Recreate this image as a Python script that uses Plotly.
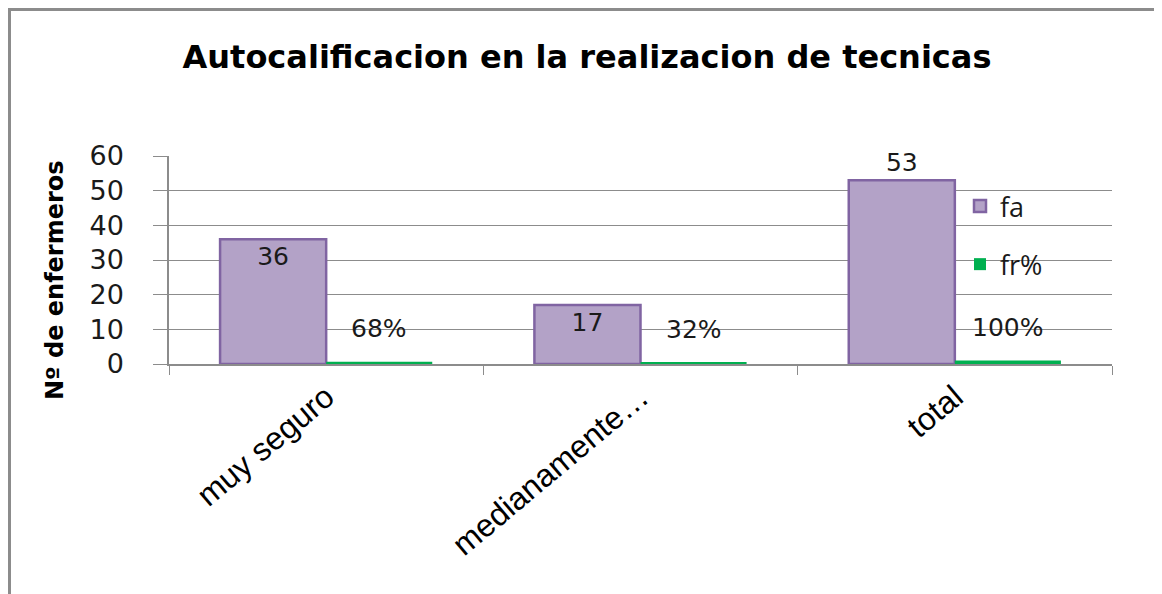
import plotly.graph_objects as go

categories = ["muy seguro", "medianamente…", "total"]
fa_values = [36, 17, 53]
fr_values = [0.68, 0.32, 1.00]
fa_labels = ["36", "17", "53"]
fr_labels = ["68%", "32%", "100%"]
fa_textpos = ["inside", "inside", "outside"]
y_ticks = [0, 10, 20, 30, 40, 50, 60]

# page has an 8px body margin; design in reference pixels, then shift
OFF = 8
W, H = 1162 - OFF, 594 - OFF
L, T = 169 - OFF, 156 - OFF
R = W - (1112 - OFF)
B = H - (364 - OFF)
pw = W - L - R
ph = H - T - B

fig = go.Figure()
fig.add_trace(go.Bar(
    x=categories, y=fa_values, name="fa", legendgroup="a",
    marker=dict(color="#B3A2C7", line=dict(color="#8064A2", width=2.5)),
    text=fa_labels, textposition=fa_textpos, insidetextanchor="end",
    textfont=dict(family="DejaVu Sans", size=25, color="#1a1a1a"),
    outsidetextfont=dict(family="DejaVu Sans", size=25, color="#1a1a1a"),
    insidetextfont=dict(family="DejaVu Sans", size=25, color="#1a1a1a"),
    cliponaxis=False, constraintext="none",
))
fig.add_trace(go.Bar(
    x=categories, y=fr_values, name="fr%", legendgroup="b",
    marker=dict(color="#00B050", line=dict(color="#00B050", width=0)),
    cliponaxis=False,
))

# fr% data labels, positioned over the fr bars
bar_px = pw / len(categories) * (1 - 0.325) / 2
for c, v, t in zip(categories, fr_values, fr_labels):
    fig.add_annotation(
        x=c, y=v, xref="x", yref="y", text=t, showarrow=False,
        xshift=bar_px / 2, yshift=17, yanchor="bottom",
        font=dict(family="DejaVu Sans", size=25, color="#1a1a1a"),
    )

# y-axis title
fig.add_annotation(
    text="<b>Nº de enfermeros</b>", textangle=-90, showarrow=False,
    xref="paper", yref="paper", x=(55 - OFF - L) / pw, y=(364 - 280) / ph,
    xanchor="center", yanchor="middle",
    font=dict(family="DejaVu Sans", size=24, color="#000000"),
)

# outer frame (top and left edges visible)
fig.add_shape(type="rect", xref="paper", yref="paper",
              x0=(1.5 - L) / pw, x1=(W + 20 - L) / pw,
              y0=-(H + 20 - T - ph) / ph, y1=(H - B - 1.5) / ph,
              line=dict(color="#8c8c8c", width=3), fillcolor="rgba(0,0,0,0)", layer="below")

fig.update_layout(
    width=W, height=H,
    margin=dict(l=L, r=R, t=T, b=B, autoexpand=False),
    paper_bgcolor="white", plot_bgcolor="white",
    barmode="group", bargap=0.325, bargroupgap=0,
    title=dict(text="<b>Autocalificacion en la realizacion de tecnicas</b>",
               x=(587 - OFF) / W, xref="container", xanchor="center",
               y=1 - (57 - OFF) / H, yref="container", yanchor="middle",
               font=dict(family="DejaVu Sans", size=32, color="#000000")),
    legend=dict(x=(960 - OFF - L) / pw, y=(364 - 182) / ph, xanchor="left", yanchor="top",
                bgcolor="rgba(0,0,0,0)", traceorder="grouped", tracegroupgap=20,
                font=dict(family="Open Sans", size=27, color="#1a1a1a")),
    xaxis=dict(type="category", showline=True, linecolor="#8c8c8c", linewidth=1.5,
               ticks="outside", tickson="boundaries", ticklen=9, tickcolor="#8c8c8c",
               tickangle=-40, showgrid=False,
               tickfont=dict(family="Liberation Sans", size=32, color="#000000")),
    yaxis=dict(range=[0, 60], tickvals=y_ticks, showline=True, linecolor="#8c8c8c",
               linewidth=1.5, ticks="outside", ticklen=14, tickcolor="#8c8c8c",
               showgrid=True, gridcolor="#8c8c8c", gridwidth=1, zeroline=False,
               ticklabelstandoff=24,
               tickfont=dict(family="DejaVu Sans", size=27, color="#1a1a1a")),
)

fig.write_html("out.html")
